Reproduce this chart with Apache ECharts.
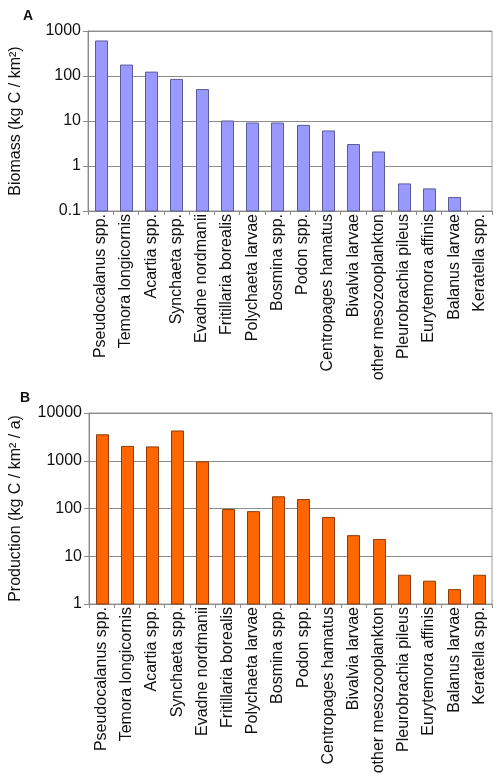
<!DOCTYPE html>
<html>
<head>
<meta charset="utf-8">
<script src="https://cdn.jsdelivr.net/npm/echarts@6/dist/echarts.min.js"></script>
<style>
html,body{margin:0;padding:0;background:#fff;}
#c{width:498px;height:781px;}
</style>
</head>
<body>
<div id="c"></div>
<script>
const categories = ["Pseudocalanus spp.","Temora longicornis","Acartia spp.","Synchaeta spp.","Evadne nordmanii","Fritillaria borealis","Polychaeta larvae","Bosmina spp.","Podon spp.","Centropages hamatus","Bivalvia larvae","other mesozooplankton","Pleurobrachia pileus","Eurytemora affinis","Balanus larvae","Keratella spp."];
const biomass = [600,175,122,84,50,10,9,9,8,6,3,2.05,0.4,0.31,0.2,null];
const production = [3500,2000,1950,4200,950,95,86,176,154,65,27,22.5,4,3,2,4];
const biomassTicks = [0.1,1,10,100,1000];
const productionTicks = [1,10,100,1000,10000];

const font = '"Liberation Sans", Arial, sans-serif';
const chart = echarts.init(document.getElementById('c'), null, {renderer:'canvas'});

function xAxis(gi){
  return {
    type:'category', gridIndex:gi, data:categories, boundaryGap:true,
    axisLine:{lineStyle:{color:'#8a8a8a',width:1}},
    axisTick:{show:true,length:4,alignWithLabel:false,lineStyle:{color:'#8a8a8a'}},
    axisLabel:{rotate:90,interval:0,margin:3,fontFamily:font,fontSize:16,color:'#111'},
    splitLine:{show:false}
  };
}
function yAxis(gi,ticks,name,gap){
  return {
    type:'log', gridIndex:gi, logBase:10, min:ticks[0], max:ticks[ticks.length-1],
    name:name, nameLocation:'middle', nameGap:gap, nameRotate:90,
    nameTextStyle:{fontFamily:font,fontSize:16,color:'#111'},
    axisLine:{show:true,lineStyle:{color:'#8a8a8a',width:1}},
    axisTick:{show:true,length:5,lineStyle:{color:'#8a8a8a'}},
    axisLabel:{margin:7,fontFamily:font,fontSize:16,color:'#111',
      formatter:function(v){ return String(v); }},
    splitLine:{show:true,lineStyle:{color:'#8c8c8c',width:1}}
  };
}

function barSeries(gi, values, baseValue, fill, stroke){
  return {
    type:'custom', xAxisIndex:gi, yAxisIndex:gi,
    data: values.map(function(v,i){ return [i, v == null ? '-' : v]; }),
    encode:{x:0,y:1},
    clip:false,
    renderItem:function(params, api){
      const v = api.value(1);
      if (v == null || isNaN(v)) return null;
      const top = api.coord([api.value(0), v]);
      const bot = api.coord([api.value(0), baseValue]);
      const w = 12;
      return {
        type:'rect',
        shape:{x:Math.round(top[0]-w/2)+0.5, y:top[1], width:w, height:bot[1]-top[1]},
        style:{fill:fill, stroke:stroke, lineWidth:1}
      };
    }
  };
}

chart.setOption({
  animation:false,
  backgroundColor:'#fff',
  title:[
    {text:'A',left:18,top:4,textStyle:{fontFamily:font,fontSize:14,fontWeight:'bold',color:'#111'}},
    {text:'B',left:15,top:386,textStyle:{fontFamily:font,fontSize:14,fontWeight:'bold',color:'#111'}}
  ],
  grid:[
    {left:86,top:31,width:406,height:180,show:true,borderColor:'#9a9a9a',borderWidth:1,backgroundColor:'transparent'},
    {left:88,top:413,width:404,height:191,show:true,borderColor:'#9a9a9a',borderWidth:1,backgroundColor:'transparent'}
  ],
  xAxis:[xAxis(0),xAxis(1)],
  yAxis:[yAxis(0,biomassTicks,'Biomass (kg C / km²)',64),yAxis(1,productionTicks,'Production (kg C / km² / a)',65)],
  series:[
    barSeries(0, biomass, biomassTicks[0], '#9999ff', '#5c5c99'),
    barSeries(1, production, productionTicks[0], '#ff6600', '#8f3c0a')
  ]
});
</script>
</body>
</html>
